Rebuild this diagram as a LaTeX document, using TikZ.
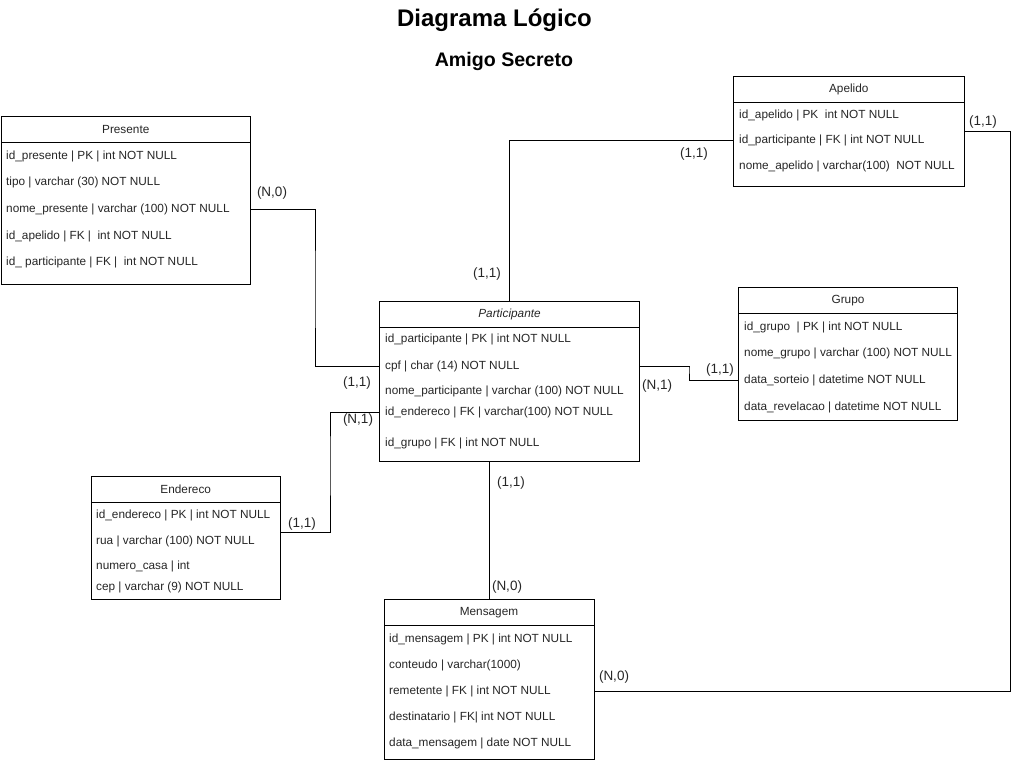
\documentclass[tikz,border=0pt]{standalone}
\usepackage{fontspec}
\setmainfont{Liberation Sans}
\usetikzlibrary{positioning,calc}

\begin{document}
\begin{tikzpicture}[
    x=1pt, y=-1pt,
    tabela/.style={rectangle, draw=black, line width=1pt, fill=white, anchor=north west, inner sep=0pt},
    cabec/.style={rectangle, draw=black, line width=1pt, anchor=north, minimum height=26pt, inner sep=0pt, font=\fontsize{11.8}{13}\selectfont, text=black!85},
    campo/.style={anchor=west, inner sep=0pt, font=\fontsize{11.8}{13}\selectfont, text=black!85},
    rel/.style={draw=black, line width=1pt},
    card/.style={inner sep=0pt, font=\fontsize{13.5}{15}\selectfont, text=black!85},
    titulo/.style={inner sep=0pt, font=\bfseries\fontsize{24}{28}\selectfont}
]
    \useasboundingbox (0,0) rectangle (1012,760);

    % Titulos
    \node[titulo] (tit) at (494.5,20) {Diagrama Lógico};
    \node[titulo, font=\bfseries\fontsize{19.6}{23}\selectfont] (subtit) at (504,61) {Amigo Secreto};

    % Presente
    \node[tabela, minimum width=249.5, minimum height=168] (pres) at (0.5,116) {};
    \node[cabec, minimum width=249.5] (presh) at (pres.north) {Presente};
    \node[campo] (presid) at (6,156) {id\_presente | PK | int NOT NULL};
    \node[campo] (prestipo) at (6,182) {tipo | varchar (30) NOT NULL};
    \node[campo] (presnome) at (6,209) {nome\_presente | varchar (100) NOT NULL};
    \node[campo] (presapel) at (6,236) {id\_apelido | FK |~ int NOT NULL};
    \node[campo] (prespart) at (6,262) {id\_ participante | FK |~ int NOT NULL};

    % Apelido
    \node[tabela, minimum width=230.5, minimum height=110] (apel) at (733,76) {};
    \node[cabec, minimum width=230.5] (apelh) at (apel.north) {Apelido};
    \node[campo] (apelid) at (739,115) {id\_apelido | PK~ int NOT NULL};
    \node[campo] (apelpart) at (739,140) {id\_participante | FK | int NOT NULL};
    \node[campo] (apelnome) at (739,166) {nome\_apelido | varchar(100)~ NOT NULL};

    % Participante
    \node[tabela, minimum width=260, minimum height=160] (part) at (379,300.5) {};
    \node[cabec, minimum width=260] (parth) at (part.north) {\itshape Participante};
    \node[campo] (partid) at (385,339) {id\_participante | PK | int NOT NULL};
    \node[campo] (partcpf) at (385,366) {cpf | char (14) NOT NULL};
    \node[campo] (partnome) at (385,391) {nome\_participante | varchar (100) NOT NULL};
    \node[campo] (partend) at (385,412) {id\_endereco | FK | varchar(100) NOT NULL};
    \node[campo] (partgr) at (385,443) {id\_grupo | FK | int NOT NULL};

    % Grupo
    \node[tabela, minimum width=219, minimum height=133] (grupo) at (738,287) {};
    \node[cabec, minimum width=219] (grupoh) at (grupo.north) {Grupo};
    \node[campo] (grid) at (744,327) {id\_grupo~ | PK | int NOT NULL};
    \node[campo] (grnome) at (744,353) {nome\_grupo | varchar (100) NOT NULL};
    \node[campo] (grsort) at (744,380) {data\_sorteio | datetime NOT NULL};
    \node[campo] (grrev) at (744,407) {data\_revelacao | datetime NOT NULL};

    % Endereco
    \node[tabela, minimum width=189.5, minimum height=122.5] (ender) at (90.5,476) {};
    \node[cabec, minimum width=189.5] (enderh) at (ender.north) {Endereco};
    \node[campo] (endid) at (96,515) {id\_endereco | PK | int NOT NULL};
    \node[campo] (endrua) at (96,541) {rua | varchar (100) NOT NULL};
    \node[campo] (endnum) at (96,566) {numero\_casa | int};
    \node[campo] (endcep) at (96,587) {cep | varchar (9) NOT NULL};

    % Mensagem
    \node[tabela, minimum width=210, minimum height=159.5] (msg) at (383.5,599) {};
    \node[cabec, minimum width=210] (msgh) at (msg.north) {Mensagem};
    \node[campo] (msgid) at (389,639) {id\_mensagem | PK | int NOT NULL};
    \node[campo] (msgcont) at (389,665) {conteudo | varchar(1000)};
    \node[campo] (msgrem) at (389,691) {remetente | FK | int NOT NULL};
    \node[campo] (msgdest) at (389,717) {destinatario | FK| int NOT NULL};
    \node[campo] (msgdata) at (389,743) {data\_mensagem | date NOT NULL};

    % Relacionamentos
    \coordinate (borda) at (1010.5,0);
    \draw[rel] (pres.east |- presnome) -| ($(pres.east)!.5!(part.west)$) |- (part.west |- partcpf);
    \draw[rel] ([yshift=5.5pt]ender.east) -| ($(ender.east)!.5!(part.west)$) |- (part.west |- partend);
    \draw[rel] (part.north) |- (apel.west |- apelpart);
    \draw[rel] (part.east |- partcpf) -| ($(part.east)!.5!(grupo.west)$) |- (grupo.west |- grsort);
    \draw[rel] (msg.north |- part.south) -- (msg.north);
    \draw[rel] (apel.east) -| (borda |- msgrem) -- (msg.east |- msgrem);

    % Cardinalidades
    \node[card] (c1) at (272,193) {(N,0)};
    \node[card] (c2) at (357,383) {(1,1)};
    \node[card] (c3) at (358,420) {(N,1)};
    \node[card] (c4) at (302,524) {(1,1)};
    \node[card] (c5) at (487,274) {(1,1)};
    \node[card] (c6) at (694,154) {(1,1)};
    \node[card] (c7) at (657,386) {(N,1)};
    \node[card] (c8) at (720,370) {(1,1)};
    \node[card] (c9) at (511,483) {(1,1)};
    \node[card] (c10) at (507,587) {(N,0)};
    \node[card] (c11) at (983,122) {(1,1)};
    \node[card] (c12) at (614,677) {(N,0)};

\end{tikzpicture}
\end{document}
